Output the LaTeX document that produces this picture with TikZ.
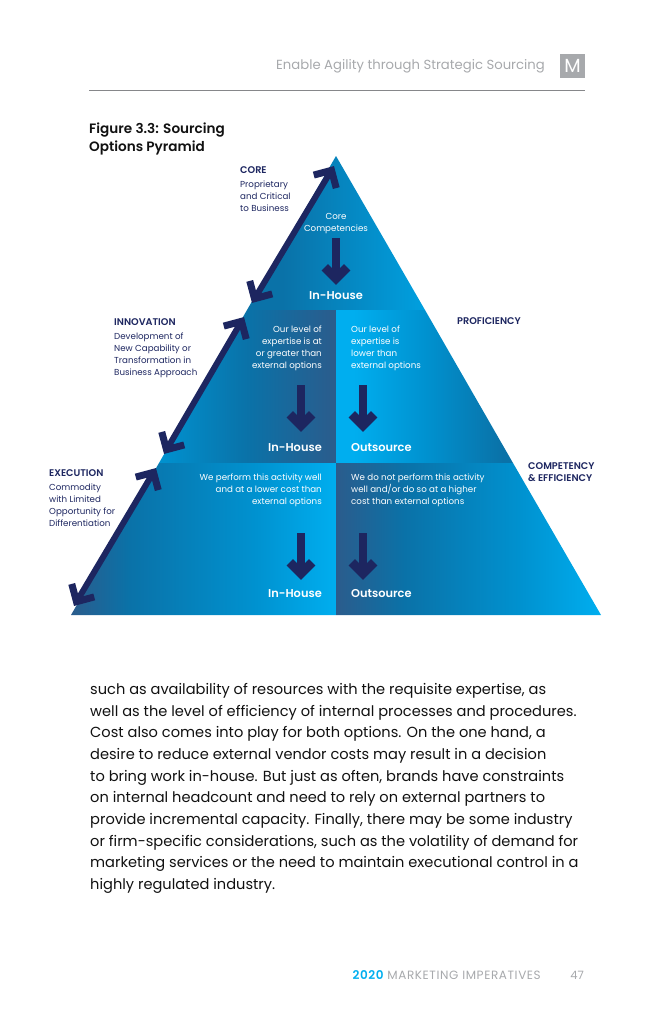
\documentclass[tikz,border=0pt]{standalone}
\usepackage{fontspec}
\setmainfont{Poppins}[BoldFont={Poppins SemiBold}]
\usetikzlibrary{arrows.meta}

\definecolor{navy}{HTML}{1D2660}
\definecolor{cyanb}{HTML}{00AEEF}
\definecolor{bluec}{HTML}{0092D0}
\definecolor{bluem}{HTML}{0A72A8}
\definecolor{blued}{HTML}{2B5C8C}
\definecolor{greyt}{HTML}{A7A9AC}
\definecolor{inkb}{HTML}{111111}

\pgfdeclarehorizontalshading{bandeH}{100bp}{color(0bp)=(bluem); color(25bp)=(bluem); color(35bp)=(bluem); color(75bp)=(bluec!50!cyanb); color(100bp)=(bluec!50!cyanb)}
\pgfdeclarehorizontalshading{bandeMg}{100bp}{color(0bp)=(bluec); color(25bp)=(bluec); color(50bp)=(bluem); color(75bp)=(blued); color(100bp)=(blued)}
\pgfdeclarehorizontalshading{bandeMd}{100bp}{color(0bp)=(cyanb); color(25bp)=(cyanb); color(30bp)=(cyanb); color(50bp)=(bluec); color(72bp)=(bluem); color(100bp)=(bluem)}
\pgfdeclarehorizontalshading{bandeBg}{100bp}{color(0bp)=(blued); color(25bp)=(blued); color(36bp)=(bluem); color(60bp)=(bluec); color(75bp)=(cyanb); color(100bp)=(cyanb)}
\pgfdeclarehorizontalshading{bandeBd}{100bp}{color(0bp)=(blued); color(25bp)=(blued); color(38bp)=(bluem); color(60bp)=(bluec); color(75bp)=(cyanb); color(100bp)=(cyanb)}

\tikzset{
    bigarrow/.style={navy, line width=6pt, shorten >=5pt, shorten <=5pt},
    downarrow/.style={navy, line width=8.5pt, shorten >=6pt},
    bighead/.pic={\draw[navy, line width=7pt, miter limit=4] (-18,-13) -- (-5,0) -- (-18,13);},
    downhead/.pic={\draw[navy, line width=9pt, miter limit=4] (-17.7,-11.3) -- (-6.4,0) -- (-17.7,11.3);},
    small/.style={text=white, font=\fontsize{8.7}{12}\selectfont, inner sep=0pt},
    verdict/.style={text=white, font=\fontsize{11.4}{13}\selectfont\bfseries, inner sep=0pt},
    side/.style={text=navy, font=\fontsize{8.7}{12}\selectfont, inner sep=0pt, align=left, anchor=north west},
    sidehead/.style={text=navy, font=\fontsize{9.7}{12}\selectfont\bfseries, inner sep=0pt, align=left, anchor=north west},
}

\begin{document}
\begin{tikzpicture}[x=1pt, y=-1pt]
    \useasboundingbox (0,0) rectangle (660,1020);

    % En-tete
    \node[text=greyt, font=\fontsize{13.2}{15}\selectfont, anchor=east, inner sep=0pt] (entete) at (545,66.5) {Enable Agility through Strategic Sourcing};
    \node[fill=greyt, minimum width=25pt, minimum height=24pt, inner sep=0pt, text=white, font=\fontsize{19}{19}\selectfont] (logo) at (572.5,66) {M};
    \coordinate (regleA) at (89,90.5);
    \coordinate (regleB) at (585,90.5);
    \draw[greyt!80!black, line width=0.8pt] (regleA) -- (regleB);

    % Titre
    \node[text=inkb, font=\fontsize{13.6}{18}\selectfont\bfseries, align=left, anchor=north west, inner sep=0pt] (titre) at (89,123) {Figure 3.3: Sourcing\\Options Pyramid};

    % Pyramide
    \shade[shading=bandeH] (336,156) -- (425,310) -- (247,310) -- cycle;
    \shade[shading=bandeMg] (247,310) -- (336,310) -- (336,463) -- (159,463) -- cycle;
    \shade[shading=bandeMd] (336,310) -- (425,310) -- (513,463) -- (336,463) -- cycle;
    \shade[shading=bandeBg] (159,463) -- (336,463) -- (336,615) -- (71,615) -- cycle;
    \shade[shading=bandeBd] (336,463) -- (513,463) -- (601,615) -- (336,615) -- cycle;

    % Textes dans la pyramide
    \node[small, align=center] (cc) at (336,224) {Core\\Competencies};
    \node[verdict] (ih1) at (336,296) {In-House};
    \node[small, align=right, anchor=north east] (niv1) at (322,326) {Our level of\\expertise is at\\or greater than\\external options};
    \node[small, align=left, anchor=north west] (niv2) at (351,326) {Our level of\\expertise is\\lower than\\external options};
    \node[verdict, anchor=east] (ih2) at (322,448) {In-House};
    \node[verdict, anchor=west] (os2) at (351,448) {Outsource};
    \node[small, align=right, anchor=north east] (act1) at (322,474) {We perform this activity well\\and at a lower cost than\\external options};
    \node[small, align=left, anchor=north west] (act2) at (351,474) {We do not perform this activity\\well and/or do so at a higher\\cost than external options};
    \node[verdict, anchor=east] (ih3) at (322,594) {In-House};
    \node[verdict, anchor=west] (os3) at (351,594) {Outsource};

    % Fleches vers le bas
    \coordinate (hA) at (336,238);
    \coordinate (hB) at (336,285);
    \coordinate (mgA) at (301,385);
    \coordinate (mgB) at (301,432);
    \coordinate (mdA) at (363,385);
    \coordinate (mdB) at (363,432);
    \coordinate (bgA) at (301,533);
    \coordinate (bgB) at (301,580);
    \coordinate (bdA) at (363,533);
    \coordinate (bdB) at (363,580);
    \draw[downarrow] (hA) -- (hB);
    \draw[downarrow] (mgA) -- (mgB);
    \draw[downarrow] (mdA) -- (mdB);
    \draw[downarrow] (bgA) -- (bgB);
    \draw[downarrow] (bdA) -- (bdB);
    \pic[rotate=-90] at (hB) {downhead};
    \pic[rotate=-90] at (mgB) {downhead};
    \pic[rotate=-90] at (mdB) {downhead};
    \pic[rotate=-90] at (bgB) {downhead};
    \pic[rotate=-90] at (bdB) {downhead};

    % Fleches doubles
    \coordinate (d1A) at (334,166);
    \coordinate (d1B) at (252,303);
    \coordinate (d2A) at (244,317);
    \coordinate (d2B) at (164,454);
    \coordinate (d3A) at (156,468);
    \coordinate (d3B) at (74,606);
    \draw[bigarrow] (d1A) -- (d1B);
    \draw[bigarrow] (d2A) -- (d2B);
    \draw[bigarrow] (d3A) -- (d3B);
    \pic[rotate=60] at (d1A) {bighead};
    \pic[rotate=240] at (d1B) {bighead};
    \pic[rotate=60] at (d2A) {bighead};
    \pic[rotate=240] at (d2B) {bighead};
    \pic[rotate=60] at (d3A) {bighead};
    \pic[rotate=240] at (d3B) {bighead};

    % Libelles lateraux
    \node[sidehead] (core) at (240,166.5) {CORE};
    \node[side] (coret) at (240,181) {Proprietary\\and Critical\\to Business};
    \node[sidehead] (inno) at (114,318.5) {INNOVATION};
    \node[side] (innot) at (114,333) {Development of\\New Capability or\\Transformation in\\Business Approach};
    \node[sidehead] (exec) at (49,469.5) {EXECUTION};
    \node[side] (exect) at (49,484) {Commodity\\with Limited\\Opportunity for\\Differentiation};
    \node[sidehead] (prof) at (457,317.5) {PROFICIENCY};
    \node[sidehead] (comp) at (528,462.5) {COMPETENCY\\\& EFFICIENCY};

    % Paragraphe
    \node[text=inkb, font=\fontsize{14.6}{21.7}\selectfont, align=left, anchor=north west, inner sep=0pt] (corps) at (90,683) {such as availability of resources with the requisite expertise, as\\well as the level of efficiency of internal processes and procedures.\\Cost also comes into play for both options. On the one hand, a\\desire to reduce external vendor costs may result in a decision\\to bring work in-house. But just as often, brands have constraints\\on internal headcount and need to rely on external partners to\\provide incremental capacity. Finally, there may be some industry\\or firm-specific considerations, such as the volatility of demand for\\marketing services or the need to maintain executional control in a\\highly regulated industry.};

    % Pied de page
    \node[font=\fontsize{12}{14}\selectfont\addfontfeature{LetterSpace=5}, anchor=east, inner sep=0pt] (pied) at (541,975) {\textcolor{cyanb}{\bfseries 2020} \textcolor{greyt}{MARKETING IMPERATIVES}};
    \node[text=greyt, font=\fontsize{11.5}{14}\selectfont, anchor=east, inner sep=0pt] (page) at (584,975) {47};

\end{tikzpicture}
\end{document}
